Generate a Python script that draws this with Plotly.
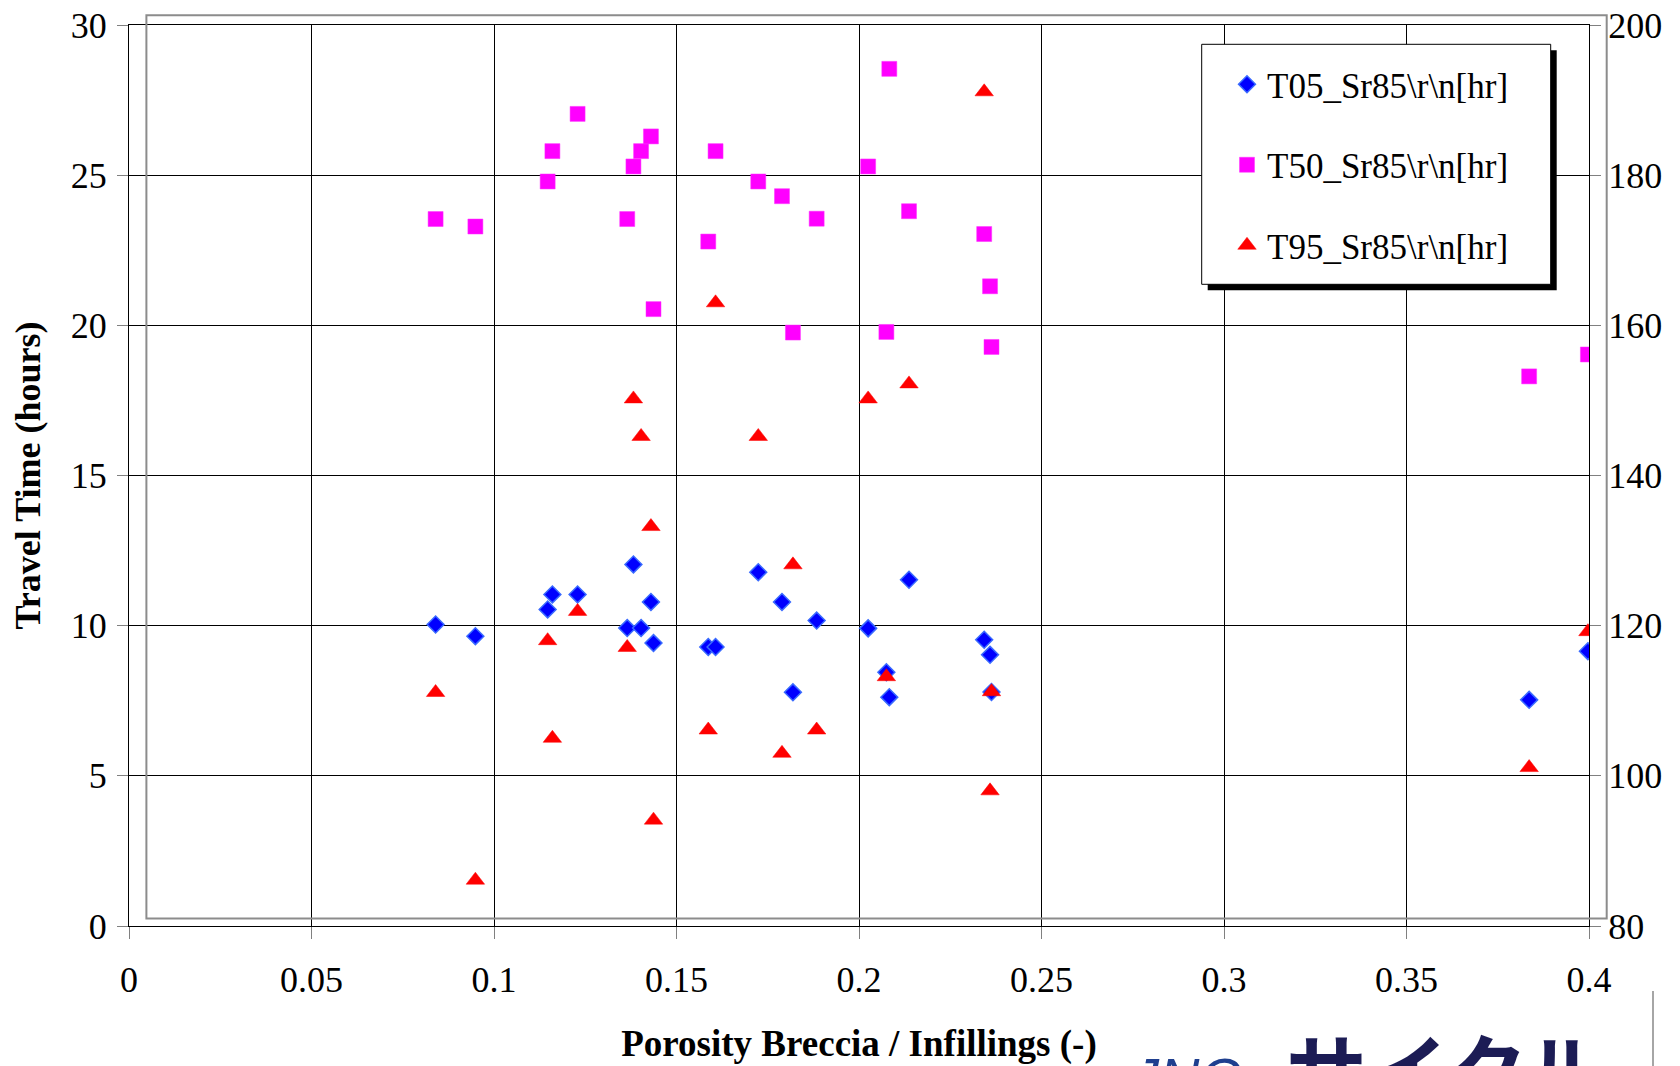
import plotly.graph_objects as go

# ---- data ----
porosity = [0.0840, 0.0949, 0.1147, 0.1160, 0.1229, 0.1365, 0.1382, 0.1403, 0.1430, 0.1437,
            0.1587, 0.1607, 0.1724, 0.1789, 0.1819, 0.1884, 0.2025, 0.2075, 0.2083, 0.2137,
            0.2343, 0.2359, 0.2363, 0.3836, 0.3997]
t05 = [10.04, 9.65, 10.54, 11.04, 11.04, 9.92, 12.04, 9.92, 10.79, 9.42,
       9.29, 9.29, 11.78, 10.79, 7.78, 10.17, 9.91, 8.45, 7.62, 11.53,
       9.53, 9.03, 7.79, 7.53, 9.15]
t50 = [23.54, 23.29, 24.79, 25.80, 27.04, 23.54, 25.29, 25.80, 26.29, 20.54,
       22.79, 25.80, 24.79, 24.30, 19.76, 23.55, 25.29, 19.78, 28.54, 23.80,
       23.04, 21.30, 19.28, 18.30, 19.03]
# T95 plotted on the secondary (right) axis
t95 = [111.1, 86.1, 118.0, 105.0, 121.9, 117.1, 150.2, 145.2, 133.2, 94.1,
       106.1, 163.0, 145.2, 103.0, 128.1, 106.1, 150.2, 113.2, None, 152.2,
       191.1, 98.0, 111.2, 101.1, 119.2]

series_names = ["T05_Sr85\\r\\n[hr]", "T50_Sr85\\r\\n[hr]", "T95_Sr85\\r\\n[hr]"]
x_tickvals = [0, 0.05, 0.1, 0.15, 0.2, 0.25, 0.3, 0.35, 0.4]
x_ticktext = ["0", "0.05", "0.1", "0.15", "0.2", "0.25", "0.3", "0.35", "0.4"]
y_tickvals = [0, 5, 10, 15, 20, 25, 30]
y2_tickvals = [80, 100, 120, 140, 160, 180, 200]

SERIF = "Liberation Serif, Times New Roman, serif"

fig = go.Figure()
fig.add_trace(go.Scatter(
    x=porosity, y=t05, mode="markers", name=series_names[0], legendgroup="a",
    marker=dict(symbol="diamond", size=13, color="#0000FF",
                line=dict(color="#3A6BFF", width=1.5))))
fig.add_trace(go.Scatter(
    x=porosity, y=t50, mode="markers", name=series_names[1], legendgroup="b",
    marker=dict(symbol="square", size=15, color="#FF00FF",
                line=dict(color="#FF33FF", width=0.5))))
fig.add_trace(go.Scatter(
    x=porosity, y=t95, mode="markers", name=series_names[2], legendgroup="c",
    yaxis="y2",
    marker=dict(symbol="triangle-up", size=16, color="#FF0000",
                line=dict(color="#FF0000", width=0.5))))

# figure is offset by the page's 8px body margin
OFF = 8
W, H = 1672, 1058
L, T = 129 - OFF, 25 - OFF
R = W - (1589 - OFF)
B = H - (926 - OFF)
pw = W - L - R
ph = H - T - B


def px_x(p):
    """screen pixel x -> paper x"""
    return (p - OFF - L) / pw


def px_y(p):
    """screen pixel y -> paper y"""
    return (H - B - (p - OFF)) / ph


shapes = [
    # grey offset plot-area frame (Excel artefact)
    dict(type="rect", xref="paper", yref="paper",
         x0=px_x(146.4), x1=px_x(1606.7), y0=px_y(918.6), y1=px_y(15.3),
         line=dict(color="#8C8C8C", width=2), layer="above"),
    # legend shadow
    dict(type="rect", xref="paper", yref="paper",
         x0=px_x(1207.7), x1=px_x(1556.7), y0=px_y(290.3), y1=px_y(50.3),
         line=dict(width=0), fillcolor="black", layer="above"),
    # legend box
    dict(type="rect", xref="paper", yref="paper",
         x0=px_x(1201.7), x1=px_x(1550.7), y0=px_y(284.3), y1=px_y(44.3),
         line=dict(color="black", width=1), fillcolor="white", layer="above"),
    # thin vertical line near the bottom-right logo
    dict(type="line", xref="paper", yref="paper",
         x0=px_x(1653), x1=px_x(1653), y0=px_y(1070), y1=px_y(991),
         line=dict(color="#888888", width=1.5)),
]

annotations = [
    dict(text="JNC", xref="paper", yref="paper", x=px_x(1128), y=px_y(1044),
         xanchor="left", yanchor="top", showarrow=False,
         font=dict(family="Liberation Sans, Arial, sans-serif", size=56, color="#1F3F8F",
                   style="italic")),
    dict(text="<b>サイクル</b>", xref="paper", yref="paper", x=px_x(1284), y=px_y(1006),
         xanchor="left", yanchor="top", showarrow=False,
         font=dict(family="Noto Sans CJK JP", size=81, color="#1C1C55")),
]

fig.update_layout(
    width=W, height=H,
    margin=dict(l=L, r=R, t=T, b=B, pad=0, autoexpand=False),
    paper_bgcolor="white", plot_bgcolor="white",
    font=dict(family=SERIF, size=36, color="black"),
    showlegend=True,
    legend=dict(x=px_x(1227), y=px_y(55), xanchor="left", yanchor="top",
                bgcolor="rgba(0,0,0,0)", borderwidth=0,
                font=dict(family=SERIF, size=35, color="black"),
                tracegroupgap=32, itemsizing="trace"),
    xaxis=dict(range=[0, 0.4], tickvals=x_tickvals, ticktext=x_ticktext,
               showgrid=True, gridcolor="black", gridwidth=1,
               showline=True, linecolor="black", linewidth=1, mirror=True,
               zeroline=False, ticks="outside", ticklen=12, tickcolor="#808080",
               tickwidth=1, ticklabelstandoff=10, automargin=False,
               ticklabeloverflow="allow",
               tickfont=dict(family=SERIF, size=36),
               title=dict(text="<b>Porosity Breccia / Infillings (-)</b>",
                          font=dict(family=SERIF, size=37), standoff=30)),
    yaxis=dict(range=[0, 30], tickvals=y_tickvals,
               showgrid=True, gridcolor="black", gridwidth=1,
               showline=True, linecolor="black", linewidth=1,
               zeroline=False, ticks="outside", ticklen=11, tickcolor="#808080",
               tickwidth=1, ticklabelstandoff=3, automargin=False,
               ticklabeloverflow="allow",
               tickfont=dict(family=SERIF, size=36),
               title=dict(text="<b>Travel Time (hours)</b>",
                          font=dict(family=SERIF, size=36), standoff=21)),
    yaxis2=dict(range=[80, 200], tickvals=y2_tickvals, overlaying="y", side="right",
                showgrid=False, showline=True, linecolor="black", linewidth=1,
                zeroline=False, ticks="outside", ticklen=11, tickcolor="#808080",
                tickwidth=1, ticklabelstandoff=0, automargin=False,
                ticklabeloverflow="allow",
                tickfont=dict(family=SERIF, size=36)),
    shapes=shapes,
    annotations=annotations,
)

fig.write_html("out.html")
